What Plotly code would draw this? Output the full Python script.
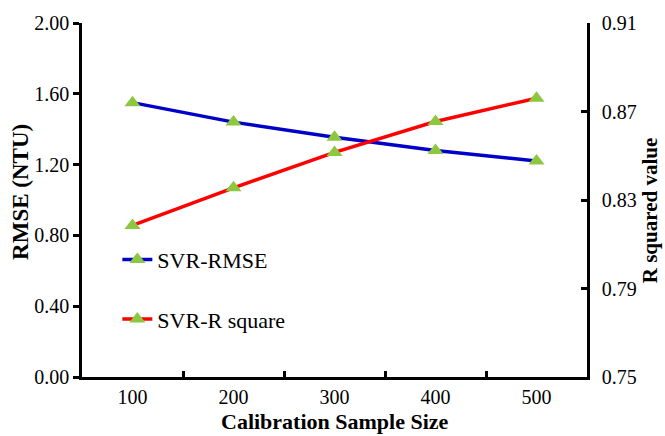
import plotly.graph_objects as go

sample_sizes = [100, 200, 300, 400, 500]
rmse_values = [1.55, 1.44, 1.355, 1.28, 1.22]
r2_values = [0.8185, 0.8355, 0.8515, 0.8655, 0.876]
left_ticks = [0.0, 0.4, 0.8, 1.2, 1.6, 2.0]
right_ticks = [0.75, 0.79, 0.83, 0.87, 0.91]

FONT = "Liberation Serif"
GREEN = "#8DC63F"

fig = go.Figure()
fig.add_trace(go.Scatter(
    x=sample_sizes, y=rmse_values, name="SVR-RMSE", mode="lines+markers",
    line=dict(color="#0000C8", width=3.5),
    marker=dict(symbol="triangle-up", size=14, color=GREEN),
    legendgroup="a", yaxis="y"))
fig.add_trace(go.Scatter(
    x=sample_sizes, y=r2_values, name="SVR-R square", mode="lines+markers",
    line=dict(color="#FF0000", width=3.5),
    marker=dict(symbol="triangle-up", size=14, color=GREEN),
    legendgroup="b", yaxis="y2"))

axis_common = dict(showgrid=False, zeroline=False, showline=True,
                   linecolor="black", linewidth=2.5,
                   tickfont=dict(family=FONT, size=20, color="black"),
                   tickcolor="black", tickwidth=2.5)

fig.update_layout(
    width=665, height=436,
    margin=dict(l=82, r=78, t=20, b=59),
    paper_bgcolor="white", plot_bgcolor="white",
    font=dict(family=FONT, color="black"),
    xaxis=dict(range=[50, 550], tickvals=sample_sizes, ticktext=[str(v) for v in sample_sizes],
               ticks="", ticklabelstandoff=0,
               minor=dict(tickvals=[150, 250, 350, 450], ticks="inside", ticklen=6,
                          tickcolor="black", tickwidth=2.5),
               **axis_common),
    yaxis=dict(range=[0, 2.0], tickvals=left_ticks, tickformat=".2f",
               ticks="outside", ticklen=6, ticklabelstandoff=0, **axis_common),
    yaxis2=dict(range=[0.75, 0.91], tickvals=right_ticks, tickformat=".2f",
                overlaying="y", side="right",
                ticks="inside", ticklen=6, ticklabelstandoff=8, **axis_common),
    legend=dict(x=0.07, y=0.391, xanchor="left", yanchor="top",
                bgcolor="rgba(0,0,0,0)", tracegroupgap=28, traceorder="grouped",
                font=dict(family=FONT, size=22, color="black")),
    showlegend=True,
)

fig.add_annotation(text="<b>Calibration Sample Size</b>", xref="paper", yref="paper",
                   x=0.5, y=-0.127, yanchor="middle", showarrow=False,
                   font=dict(family=FONT, size=22, color="black"))
fig.add_annotation(text="<b>RMSE (NTU)</b>", xref="paper", yref="paper",
                   x=-0.122, y=0.524, xanchor="center", yanchor="middle", textangle=-90,
                   showarrow=False, font=dict(family=FONT, size=23, color="black"))
fig.add_annotation(text="<b>R squared value</b>", xref="paper", yref="paper",
                   x=1.124, y=0.47, xanchor="center", yanchor="middle", textangle=-90,
                   showarrow=False, font=dict(family=FONT, size=21, color="black"))

fig.write_html("out.html", config={"displayModeBar": False},
               post_script="document.body.style.margin='0';document.body.style.overflow='hidden';")
